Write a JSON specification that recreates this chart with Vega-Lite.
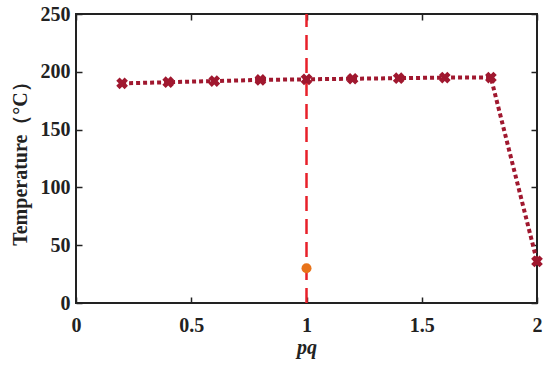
{
  "$schema": "https://vega.github.io/schema/vega-lite/v6.json",
  "autosize": {"type": "none"},
  "width": 461,
  "height": 289,
  "padding": {"left": 76, "top": 14, "right": 13, "bottom": 64},
  "background": "white",
  "config": {
    "view": {"stroke": "#222222", "strokeWidth": 2},
    "font": "Liberation Serif",
    "axis": {
      "grid": false,
      "domain": false,
      "ticks": true,
      "zindex": 1,
      "tickColor": "#222222",
      "tickWidth": 1.5,
      "tickSize": -6,
      "labelFont": "Liberation Serif",
      "labelFontWeight": "bold",
      "labelFontSize": 20,
      "labelColor": "#222222",
      "titleFont": "Liberation Serif",
      "titleFontWeight": "bold",
      "titleFontSize": 20,
      "titleColor": "#222222"
    }
  },
  "datasets": {
    "series": [
      {"pq": 0.2, "temp": 190},
      {"pq": 0.4, "temp": 191},
      {"pq": 0.6, "temp": 192},
      {"pq": 0.8, "temp": 193},
      {"pq": 1.0, "temp": 193.5},
      {"pq": 1.2, "temp": 194},
      {"pq": 1.4, "temp": 194.5},
      {"pq": 1.6, "temp": 195},
      {"pq": 1.8, "temp": 195},
      {"pq": 2.0, "temp": 36}
    ],
    "vline": [{"pq": 1, "y0": 0, "y1": 250}],
    "pt": [{"pq": 1, "temp": 30}]
  },
  "layer": [
    {
      "data": {"name": "vline"},
      "mark": {"type": "rule", "color": "#E8202A", "strokeWidth": 2.5, "strokeDash": [15, 8]},
      "encoding": {
        "x": {"field": "pq", "type": "quantitative", "scale": {"domain": [0, 2], "nice": false},
          "axis": {"orient": "bottom", "values": [0, 0.5, 1, 1.5, 2], "format": "~g", "title": "pq", "titleFontStyle": "italic", "titlePadding": 2, "labelPadding": 18, "labelFlush": false}},
        "y": {"field": "y0", "type": "quantitative", "scale": {"domain": [0, 250], "nice": false},
          "axis": {"orient": "left", "values": [0, 50, 100, 150, 200, 250], "title": "Temperature（°C）", "titlePadding": 10, "labelPadding": 12, "labelFlush": false}},
        "y2": {"field": "y1"}
      }
    },
    {
      "data": {"name": "series"},
      "mark": {"type": "line", "color": "#A0182F", "strokeWidth": 4, "strokeDash": [4, 3]},
      "encoding": {
        "x": {"field": "pq", "type": "quantitative", "axis": null},
        "y": {"field": "temp", "type": "quantitative", "axis": null}
      }
    },
    {
      "data": {"name": "series"},
      "mark": {"type": "point", "shape": "cross", "filled": true, "color": "#A0182F", "size": 140, "angle": 45, "opacity": 1},
      "encoding": {
        "x": {"field": "pq", "type": "quantitative", "axis": null},
        "y": {"field": "temp", "type": "quantitative", "axis": null}
      }
    },
    {
      "data": {"name": "pt"},
      "mark": {"type": "circle", "color": "#E8731A", "size": 100, "opacity": 1},
      "encoding": {
        "x": {"field": "pq", "type": "quantitative",
          "axis": {"orient": "top", "values": [0, 0.5, 1, 1.5, 2], "labels": false, "title": null}},
        "y": {"field": "temp", "type": "quantitative",
          "axis": {"orient": "right", "values": [0, 50, 100, 150, 200, 250], "labels": false, "title": null}}
      }
    }
  ],
  "resolve": {"axis": {"x": "independent", "y": "independent"}}
}
